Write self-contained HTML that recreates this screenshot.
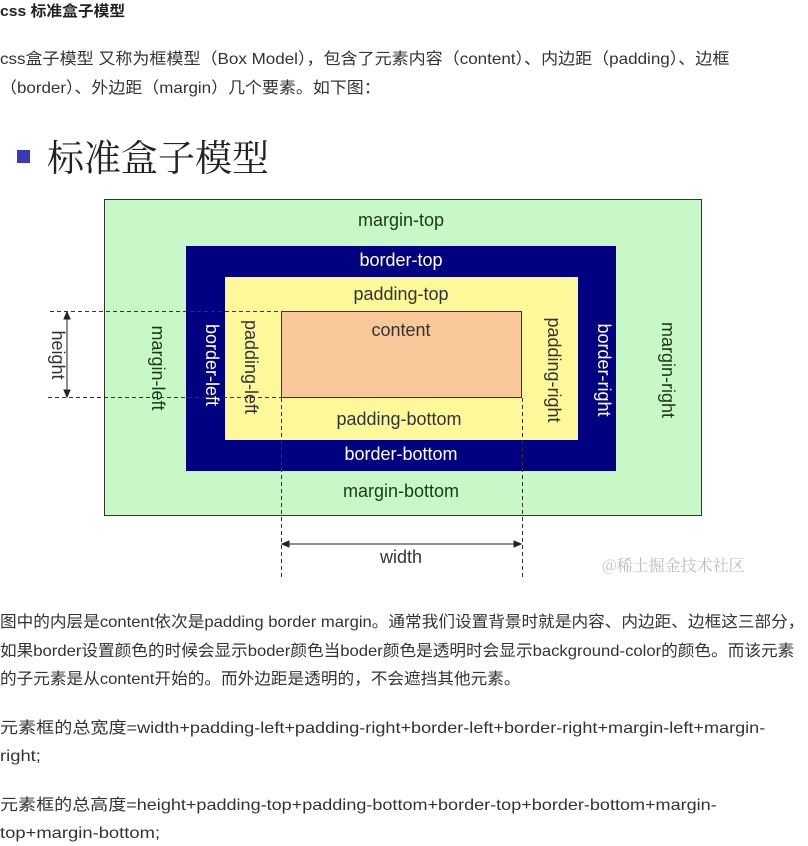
<!DOCTYPE html>
<html><head><meta charset="utf-8"><style>
html,body{margin:0;padding:0;background:#fff;}
body{width:808px;height:846px;position:relative;overflow:hidden;font-family:"Liberation Sans","Noto Sans CJK SC",sans-serif;color:#333;}
.t{position:absolute;left:0;white-space:nowrap;font-size:16px;line-height:20px;transform-origin:0 50%;}
</style></head><body>
<div class="t" style="top:2px;font-weight:bold;font-size:15px;color:#222;transform:scaleX(1.05)">css 标准盒子模型</div>
<div class="t" style="top:50px;transform:scaleX(1.064)">css盒子模型 又称为框模型（Box Model），包含了元素内容（content）、内边距（padding）、边框</div>
<div class="t" style="top:79px;transform:scaleX(1.06)">（border）、外边距（margin）几个要素。如下图：</div>

<svg style="position:absolute;left:0;top:110px" width="808" height="480" viewBox="0 110 808 480" font-family="Liberation Sans, DejaVu Sans, sans-serif">
<rect x="17" y="150" width="13" height="13" fill="#3a3ab8"/>
<text x="47" y="171" font-family="Noto Serif CJK SC, serif" font-size="37" fill="#222">标准盒子模型</text>
<rect x="104.5" y="199.5" width="597" height="316" fill="#c8f8c8" stroke="#333"/>
<rect x="186" y="246" width="430" height="225" fill="#000080"/>
<rect x="225" y="277" width="353" height="163" fill="#fdf99a"/>
<rect x="281.5" y="311.5" width="240" height="86" fill="#f8c89a" stroke="#333"/>
<g font-size="18" text-anchor="middle">
<text x="401" y="226" fill="#1a3a1a">margin-top</text>
<text x="401" y="266" fill="#fff">border-top</text>
<text x="401" y="300" fill="#333">padding-top</text>
<text x="401" y="336" fill="#333">content</text>
<text x="399" y="425" fill="#333">padding-bottom</text>
<text x="401" y="460" fill="#fff">border-bottom</text>
<text x="401" y="497" fill="#1a3a1a">margin-bottom</text>
<text x="401" y="563" fill="#333">width</text>
<text transform="translate(152,368) rotate(90)" fill="#1a3a1a">margin-left</text>
<text transform="translate(206,365) rotate(90)" fill="#fff">border-left</text>
<text transform="translate(245,367) rotate(90)" fill="#333">padding-left</text>
<text transform="translate(548,370) rotate(90)" fill="#333">padding-right</text>
<text transform="translate(598,370) rotate(90)" fill="#fff">border-right</text>
<text transform="translate(662,370) rotate(90)" fill="#1a3a1a">margin-right</text>
<text transform="translate(52,355) rotate(90)" fill="#333">height</text>
</g>
<g stroke="#333" stroke-dasharray="4,3" fill="none">
<line x1="50" y1="311.5" x2="281" y2="311.5"/>
<line x1="48" y1="397.5" x2="281" y2="397.5"/>
<line x1="281.5" y1="398" x2="281.5" y2="578"/>
<line x1="522.5" y1="398" x2="522.5" y2="578"/>
</g>
<g stroke="#222" fill="#222">
<line x1="67" y1="316" x2="67" y2="393"/>
<polygon points="67,312 64,319 70,319"/>
<polygon points="67,397 64,390 70,390"/>
<line x1="285" y1="544" x2="518" y2="544"/>
<polygon points="282,544 289,541 289,547"/>
<polygon points="521,544 514,541 514,547"/>
</g>
<text x="602" y="571" font-family="Noto Serif CJK SC, serif" font-size="16" fill="#bbb">@稀土掘金技术社区</text>
</svg>

<div class="t" style="top:613px;transform:scaleX(1.04)">图中的内层是content依次是padding border margin。通常我们设置背景时就是内容、内边距、边框这三部分，</div>
<div class="t" style="top:642px;transform:scaleX(1.04)">如果border设置颜色的时候会显示boder颜色当boder颜色是透明时会显示background-color的颜色。而该元素</div>
<div class="t" style="top:670px;transform:scaleX(1.04)">的子元素是从content开始的。而外边距是透明的，不会遮挡其他元素。</div>
<div class="t" style="top:719px;transform:scaleX(1.13)">元素框的总宽度=width+padding-left+padding-right+border-left+border-right+margin-left+margin-</div>
<div class="t" style="top:747px;transform:scaleX(1.15)">right;</div>
<div class="t" style="top:796px;transform:scaleX(1.127)">元素框的总高度=height+padding-top+padding-bottom+border-top+border-bottom+margin-</div>
<div class="t" style="top:824px;transform:scaleX(1.15)">top+margin-bottom;</div>
</body></html>
